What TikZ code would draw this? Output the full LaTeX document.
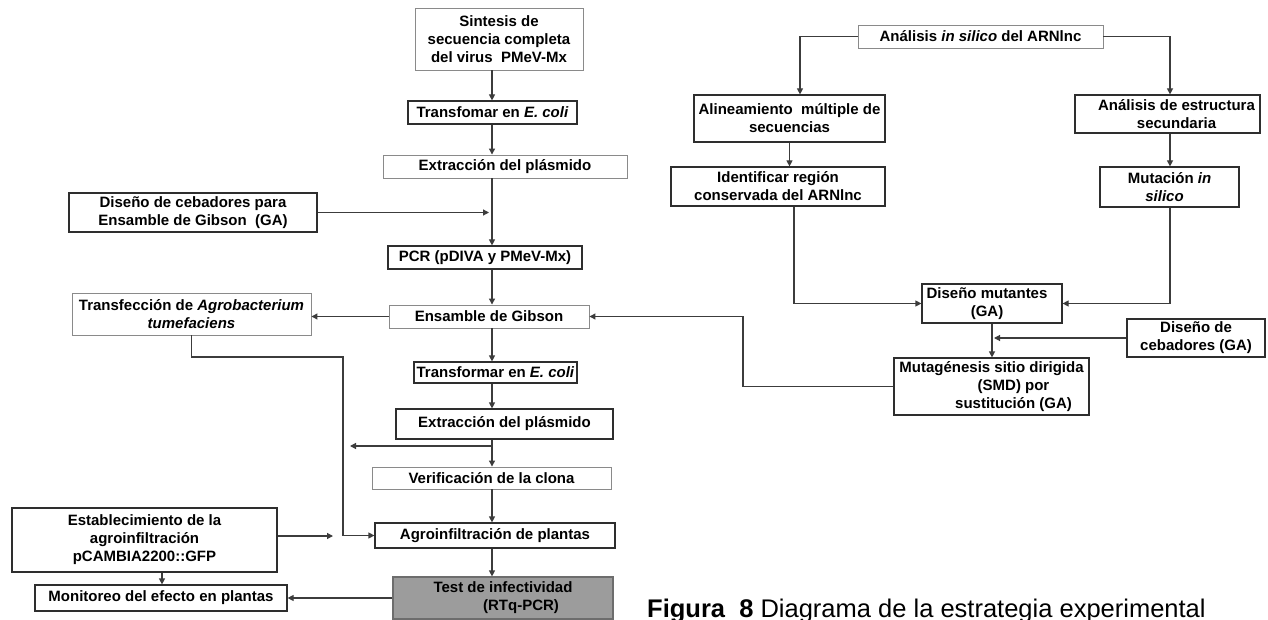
\documentclass[tikz,border=0pt]{standalone}
\usepackage{fontspec}
\setmainfont{Liberation Sans}
\usetikzlibrary{arrows.meta,calc}
\definecolor{ln}{HTML}{3C3C3C}
\definecolor{bd}{HTML}{2E2E2E}
\definecolor{lb}{HTML}{8A8A8A}
\definecolor{tf}{HTML}{9C9C9C}
\begin{document}
\begin{tikzpicture}[x=1pt,y=-1pt,
 box/.style={draw=bd,line width=1.2pt,fill=white,inner sep=0pt,align=center,font=\bfseries\fontsize{15}{18}\selectfont},
 lbox/.style={box,draw=lb,line width=0.9pt},
 arr/.style={draw=ln,line width=1.2pt,-{Triangle[length=6pt,width=6pt]}}]
\useasboundingbox (0,0) rectangle (1268,620);
\fill[white] (0,0) rectangle (1268,620);
% left column
\node[lbox,minimum width=168pt,minimum height=62pt] (sint) at (499,39) {Sintesis de\\secuencia completa\\del virus \ PMeV-Mx};
\node[box,minimum width=169pt,minimum height=23pt] (tr1) at (492.5,112.5) {Transfomar en \textit{E. coli}};
\node[lbox,minimum width=244pt,minimum height=23pt] (ex1) at (505,166.5) {Extracción del plásmido};
\node[box,minimum width=248pt,minimum height=39pt] (dis1) at (193,212.5) {Diseño de cebadores para\\Ensamble de Gibson \ (GA)};
\node[box,minimum width=194pt,minimum height=23pt] (pcr) at (485,257.5) {PCR (pDIVA y PMeV-Mx)};
\node[lbox,minimum width=200pt,minimum height=23pt] (ens) at (489,316.5) {Ensamble de Gibson};
\node[lbox,minimum width=239pt,minimum height=42pt] (transf) at (191.5,314) {Transfección de \textit{Agrobacterium}\\\textit{tumefaciens}};
\node[box,minimum width=163pt,minimum height=21pt] (tr2) at (495.5,372.5) {Transformar en \textit{E. coli}};
\node[box,minimum width=217pt,minimum height=30pt] (ex2) at (504.5,424) {Extracción del plásmido};
\node[lbox,minimum width=239pt,minimum height=22pt] (ver) at (491.5,478) {Verificación de la clona};
\node[box,minimum width=240pt,minimum height=25pt] (agro) at (495,535.5) {Agroinfiltración de plantas};
\node[box,draw=tf!70!black,fill=tf,minimum width=220pt,minimum height=42pt] (test) at (503,598) {Test de infectividad\\\hspace*{36pt}(RTq-PCR)};
\node[box,minimum width=265pt,minimum height=64pt] (est) at (144.5,540) {Establecimiento de la\\agroinfiltración\\pCAMBIA2200::GFP};
\node[box,minimum width=252pt,minimum height=26pt] (mon) at (161,598) {Monitoreo del efecto en plantas};
% right part
\node[lbox,minimum width=245pt,minimum height=23pt] (ana) at (980.5,36.5) {Análisis \textit{in silico} del ARNlnc};
\node[box,minimum width=191pt,minimum height=47pt] (ali) at (789.5,118.5) {Alineamiento \ múltiple de\\secuencias};
\node[box,minimum width=214pt,minimum height=39pt] (ide) at (778,186.5) {Identificar región\\conservada del ARNlnc};
\node[box,minimum width=185pt,minimum height=38pt] (aes) at (1167.5,114) {\hspace*{18pt}Análisis de estructura\\\hspace*{18pt}secundaria};
\node[box,minimum width=139pt,minimum height=40pt] (mut) at (1169.5,187) {Mutación \textit{in}\\\textit{silico}\hspace*{10pt}};
\node[box,minimum width=140pt,minimum height=39pt] (dmu) at (992,303.5) {Diseño mutantes\hspace*{10pt}\\(GA)\hspace*{10pt}};
\node[box,minimum width=138pt,minimum height=38pt] (dce) at (1196,338) {Diseño de\\cebadores (GA)};
\node[box,minimum width=195pt,minimum height=57pt] (smd) at (991.5,386.5) {Mutagénesis sitio dirigida\\\hspace*{44pt}(SMD) por\\\hspace*{44pt}sustitución (GA)};
% helper coordinates
\coordinate (tx) at (492,0);
\coordinate (lft) at (350,446);
\coordinate (c1) at (343,357);
\coordinate (c2) at (333,536);
\coordinate (c3) at (162,0);
\coordinate (ax) at (800,0);
\coordinate (bx) at (1170,0);
\coordinate (cx) at (794,0);
\coordinate (dx) at (743,0);
% connectors
\draw[arr] (sint.south -| tx) -- (tr1.north -| tx);
\draw[arr] (tr1.south -| tx) -- (ex1.north -| tx);
\draw[arr] (ex1.south -| tx) -- (pcr.north -| tx);
\draw[arr] (dis1.east) -- ([xshift=-3pt]dis1.east -| tx);
\draw[arr] (pcr.south -| tx) -- (ens.north -| tx);
\draw[arr] (ens.south -| tx) -- (tr2.north -| tx);
\draw[arr] (tr2.south -| tx) -- (ex2.north -| tx);
\draw[arr] (ex2.south -| tx) -- (ver.north -| tx);
\draw[arr] (lft -| tx) -- (lft);
\draw[arr] (ver.south -| tx) -- (agro.north -| tx);
\draw[arr] (agro.south -| tx) -- (test.north -| tx);
\draw[arr] (test.west) -- (mon.east);
\draw[arr] (ens.west) -- (ens.west -| transf.east);
\draw[arr] (transf.south) |- (c1) |- (agro.west);
\draw[arr] (est.east |- c2) -- (c2);
\draw[arr] (est.south -| c3) -- (mon.north -| c3);
\draw[arr] (ana.west) -| (ali.north -| ax);
\draw[arr] (ana.east) -| (aes.north -| bx);
\draw[arr] (ali.south) -- (ali.south |- ide.north);
\draw[arr] (aes.south -| bx) -- (mut.north -| bx);
\draw[arr] (ide.south -| cx) |- (dmu.west);
\draw[arr] (mut.south -| bx) |- (dmu.east);
\draw[arr] (dmu.south) -- (dmu.south |- smd.north);
\draw[arr] (dce.west) -- ([xshift=2pt]dce.west -| dmu.south);
\draw[arr] (smd.west) -| (dx |- ens.east) -- (ens.east);
% caption
\node[anchor=base west,inner sep=0pt,font=\fontsize{25.5}{30}\selectfont] (cap) at (647,617) {\textbf{Figura \ 8} Diagrama de la estrategia experimental};
\end{tikzpicture}
\end{document}
